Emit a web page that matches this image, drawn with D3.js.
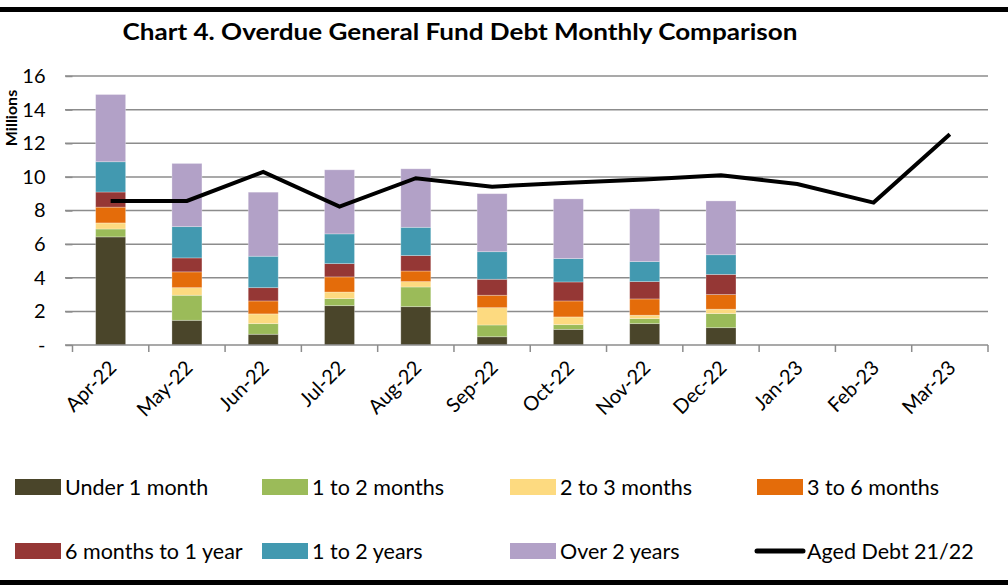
<!DOCTYPE html>
<html><head><meta charset="utf-8">
<script src="https://cdn.jsdelivr.net/npm/d3@7"></script>
<style>body{margin:0;background:#fff}svg{display:block}text{font-family:Lato,"Open Sans",sans-serif}</style>
</head><body><svg id="c" width="1008" height="585"></svg>
<script>
const months = ["Apr-22","May-22","Jun-22","Jul-22","Aug-22","Sep-22","Oct-22","Nov-22","Dec-22","Jan-23","Feb-23","Mar-23"];
const seriesNames = ["Under 1 month","1 to 2 months","2 to 3 months","3 to 6 months","6 months to 1 year","1 to 2 years","Over 2 years"];
const under1m  = [6.43,1.47,0.64,2.34,2.28,0.49,0.93,1.27,1.03];
const m1to2    = [0.47,1.49,0.63,0.42,1.17,0.70,0.28,0.30,0.84];
const m2to3    = [0.36,0.45,0.58,0.39,0.32,1.03,0.46,0.20,0.26];
const m3to6    = [0.94,0.94,0.77,0.90,0.63,0.74,0.95,0.97,0.87];
const m6to12   = [0.90,0.83,0.79,0.79,0.92,0.95,1.13,1.03,1.20];
const y1to2    = [1.80,1.86,1.87,1.77,1.68,1.64,1.39,1.19,1.17];
const over2y   = [4.00,3.76,3.81,3.81,3.48,3.45,3.55,3.14,3.20];
const agedDebt2122 = [8.57,8.57,10.30,8.23,9.92,9.42,9.65,9.85,10.10,9.58,8.47,12.54];
const yTicks = [0,2,4,6,8,10,12,14,16];
const colors = ["#4A452A","#9BBB59","#FDDA80","#E46C0A","#953735","#4299B0","#B2A1C7"];

const svg = d3.select("#c");
const seriesVals = [under1m,m1to2,m2to3,m3to6,m6to12,y1to2,over2y];
const rows = months.slice(0,9).map((m,i)=>{const o={month:m};seriesNames.forEach((s,k)=>o[s]=seriesVals[k][i]);return o;});
const stack = d3.stack().keys(seriesNames)(rows);

const x = d3.scaleBand().domain(months).range([72.5,988]).paddingInner(0).paddingOuter(0);
const y = d3.scaleLinear().domain([0,16]).range([345,76]);
const bw = 30;

// frame lines
svg.append("rect").attr("x",0).attr("y",7).attr("width",1008).attr("height",5).attr("fill","#000");
svg.append("rect").attr("x",0).attr("y",580).attr("width",1008).attr("height",5).attr("fill","#000");

// title
svg.append("text").attr("x",460).attr("y",40).attr("text-anchor","middle")
  .attr("font-size",23).attr("font-weight","bold").attr("textLength",675).attr("lengthAdjust","spacingAndGlyphs")
  .text("Chart 4. Overdue General Fund Debt Monthly Comparison");

// gridlines
svg.append("g").selectAll("line").data(yTicks.slice(1)).join("line")
  .attr("x1",65).attr("x2",988).attr("y1",d=>y(d)).attr("y2",d=>y(d))
  .attr("stroke","#8c8c8c").attr("stroke-width",1.5);

// y axis labels
const ya = svg.append("g").attr("transform","translate(72.5,0)")
  .call(d3.axisLeft(y).tickValues(yTicks).tickSize(7).tickPadding(20).tickFormat(d=>d===0?"-":d));
ya.select(".domain").remove();
ya.selectAll("line").attr("stroke","#8c8c8c").attr("stroke-width",1.5);
ya.selectAll("text").attr("font-size",20).attr("fill","#000").style("font-family","Lato, sans-serif");

// bars
svg.append("g").selectAll("g").data(stack).join("g").attr("fill",(d,i)=>colors[i])
  .selectAll("rect").data(d=>d).join("rect")
  .attr("x",d=>x(d.data.month)+x.bandwidth()/2-bw/2).attr("width",bw)
  .attr("y",d=>y(d[1])).attr("height",d=>y(d[0])-y(d[1]))
  .attr("stroke","#ffffff").attr("stroke-opacity",0.35).attr("stroke-width",0.8);

// x axis
svg.append("line").attr("x1",65).attr("x2",988).attr("y1",345).attr("y2",345).attr("stroke","#8c8c8c").attr("stroke-width",1.5);
svg.append("g").selectAll("line").data(d3.range(months.length+1)).join("line")
  .attr("x1",i=>x.range()[0]+i*x.step()).attr("x2",i=>x.range()[0]+i*x.step())
  .attr("y1",345).attr("y2",352).attr("stroke","#8c8c8c").attr("stroke-width",1.5);
svg.append("g").selectAll("text").data(months).join("text")
  .attr("transform",d=>`translate(${x(d)+x.bandwidth()/2+7},${369}) rotate(-45)`)
  .attr("text-anchor","end").attr("font-size",20).text(d=>d);

// line
const line = d3.line().x((d,i)=>x(months[i])+x.bandwidth()/2).y(d=>y(d));
svg.append("path").datum(agedDebt2122).attr("d",line).attr("fill","none")
  .attr("stroke","#000").attr("stroke-width",4).attr("stroke-linejoin","miter");

// y label
svg.append("text").attr("transform","translate(17,118) rotate(-90)").attr("text-anchor","middle")
  .attr("font-size",16).attr("font-weight","bold").text("Millions");

// legend
const leg = [
  {n:seriesNames[0],c:colors[0],x:15,y:487},{n:seriesNames[1],c:colors[1],x:262,y:487},
  {n:seriesNames[2],c:colors[2],x:510,y:487},{n:seriesNames[3],c:colors[3],x:757,y:487},
  {n:seriesNames[4],c:colors[4],x:15,y:551},{n:seriesNames[5],c:colors[5],x:262,y:551},
  {n:seriesNames[6],c:colors[6],x:510,y:551},{n:"Aged Debt 21/22",c:"line",x:757,y:551}];
const lg = svg.append("g").selectAll("g").data(leg).join("g").attr("transform",d=>`translate(${d.x},${d.y})`);
lg.filter(d=>d.c!=="line").append("rect").attr("x",0).attr("y",-8).attr("width",46).attr("height",16).attr("fill",d=>d.c);
lg.filter(d=>d.c==="line").append("line").attr("x1",0).attr("x2",46).attr("y1",0).attr("y2",0).attr("stroke","#000").attr("stroke-width",5).attr("stroke-linecap","round");
lg.append("text").attr("x",50).attr("y",0).attr("dy","0.35em").attr("font-size",21.5).text(d=>d.n);
</script></body></html>
